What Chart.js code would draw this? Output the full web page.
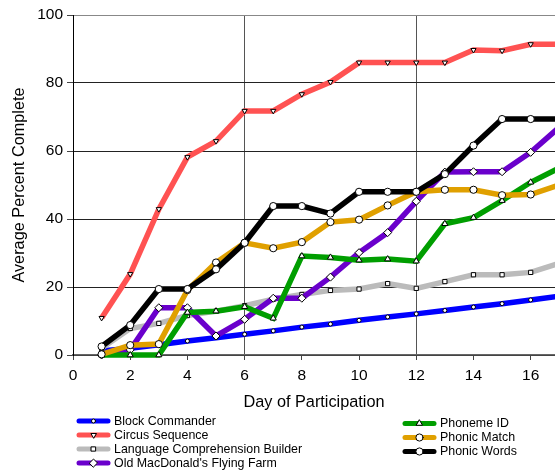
<!DOCTYPE html>
<html>
<head>
<meta charset="utf-8">
<script src="https://cdn.jsdelivr.net/npm/chart.js@4.4.1/dist/chart.umd.min.js"></script>
<style>
  html, body { margin: 0; padding: 0; background: #fff; overflow: hidden; }
  #wrap { width: 555px; height: 472px; position: relative; }
</style>
</head>
<body>
<div id="wrap"><canvas id="chart"></canvas></div>
<script>
// days of participation
const days = [1, 2, 3, 4, 5, 6, 7, 8, 9, 10, 11, 12, 13, 14, 15, 16, 17];

// average percent complete per game
const blockCommander = [1.2, 2.0, 3.0, 4.1, 5.1, 6.1, 7.1, 8.2, 9.1, 10.2, 11.2, 12.1, 13.1, 14.1, 15.1, 16.2, 17.3];
const circusSequence = [10.9, 23.8, 42.9, 58.2, 62.9, 71.8, 71.8, 76.7, 80.3, 86.0, 86.0, 86.0, 86.0, 89.7, 89.5, 91.4, 91.4];
const languageBuilder = [2.0, 7.8, 9.3, 11.6, 12.9, 14.5, 16.4, 17.8, 19.0, 19.4, 21.0, 19.6, 21.6, 23.6, 23.6, 24.3, 27.0];
const oldMacDonald = [0.0, 1.5, 13.9, 13.9, 5.6, 10.5, 16.7, 16.7, 22.9, 30.1, 36.0, 45.2, 53.8, 53.9, 53.9, 59.6, 67.0];
const phonemeId = [0.0, 0.0, 0.0, 12.5, 12.9, 14.2, 10.8, 29.1, 28.7, 27.9, 28.2, 27.6, 38.6, 40.4, 45.4, 50.8, 55.0];
const phonicMatch = [0.2, 2.9, 3.2, 19.1, 27.2, 33.0, 31.4, 33.2, 39.1, 39.8, 44.0, 48.0, 48.6, 48.6, 47.0, 47.2, 50.0];
const phonicWords = [2.5, 8.8, 19.4, 19.4, 25.2, 33.0, 43.8, 43.8, 41.6, 48.0, 48.0, 48.0, 53.2, 61.6, 69.4, 69.4, 69.4];

const yTicks = [0, 20, 40, 60, 80, 100];
const xTicks = [0, 2, 4, 6, 8, 10, 12, 14, 16];

const FONT = '"Liberation Sans", Arial, sans-serif';

function series(label, values, color, style, radius, extra) {
  return Object.assign({
    label: label,
    data: days.map((d, i) => ({ x: d, y: values[i] })),
    borderColor: color,
    backgroundColor: color,
    borderWidth: 5.5,
    pointStyle: style,
    pointRadius: radius,
    pointBackgroundColor: '#fff',
    pointBorderColor: '#000',
    pointBorderWidth: 1,
    tension: 0,
    clip: { left: 5, top: 5, right: 0, bottom: 5 },
  }, extra || {});
}

const datasets = [
  series('Block Commander', blockCommander, '#0000ff', 'circle', 2),
  series('Circus Sequence', circusSequence, '#ff5252', 'triangle', 3, { pointRotation: 180 }),
  series('Language Comprehension Builder', languageBuilder, '#bbbbbb', 'rect', 3),
  series("Old MacDonald's Flying Farm", oldMacDonald, '#6a00cc', 'rectRot', 4),
  series('Phoneme ID', phonemeId, '#009e00', 'triangle', 3.5),
  series('Phonic Match', phonicMatch, '#e0a000', 'circle', 3.6),
  series('Phonic Words', phonicWords, '#000000', 'circle', 3.6),
];
// later series on top
datasets.forEach((d, i) => { d.order = datasets.length - i; });

// two column legend like the original
const legendPlugin = {
  id: 'sideLegend',
  afterDraw(chart) {
    const ctx = chart.ctx;
    const cols = [
      { x: 77, y: 421, step: 14, items: [0, 1, 2, 3] },
      { x: 403, y: 423.5, step: 14, items: [4, 5, 6] },
    ];
    ctx.save();
    ctx.font = '12.4px ' + FONT;
    ctx.textBaseline = 'middle';
    cols.forEach(col => {
      col.items.forEach((idx, k) => {
        const ds = chart.data.datasets[idx];
        const y = col.y + k * col.step;
        ctx.strokeStyle = ds.borderColor;
        ctx.lineWidth = 5;
        ctx.lineCap = 'round';
        ctx.beginPath();
        ctx.moveTo(col.x + 2, y);
        ctx.lineTo(col.x + 31, y);
        ctx.stroke();
        ctx.fillStyle = '#fff';
        ctx.strokeStyle = '#000';
        ctx.lineWidth = 1;
        Chart.helpers.drawPoint(ctx, {
          pointStyle: ds.pointStyle,
          rotation: ds.pointRotation || 0,
          radius: ds.pointRadius,
          borderWidth: 1,
        }, col.x + 16.5, y);
        ctx.fillStyle = '#000';
        ctx.fillText(ds.label, col.x + 37, y + 0.5);
      });
    });
    ctx.restore();
  }
};

const ctx = document.getElementById('chart').getContext('2d');
new Chart(ctx, {
  type: 'line',
  data: { datasets: datasets },
  plugins: [legendPlugin],
  options: {
    responsive: true,
    maintainAspectRatio: false,
    animation: false,
    layout: { autoPadding: false, padding: { top: 15, right: 0, bottom: 60, left: 0 } },
    plugins: {
      legend: { display: false },
      tooltip: { enabled: false },
    },
    scales: {
      x: {
        type: 'linear',
        min: 0,
        max: 16.85,
        afterBuildTicks: scale => { scale.ticks = xTicks.map(v => ({ value: v })); },
        afterFit: scale => {
          scale.height = 57;
          scale.paddingLeft = 0;
          scale.paddingRight = 0;
        },
        grid: {
          drawOnChartArea: true,
          color: c => (c.tick && (c.tick.value === 6 || c.tick.value === 12)) ? '#555' : 'rgba(0,0,0,0)',
          tickColor: '#444',
          tickLength: 5,
          lineWidth: 1,
        },
        border: { color: '#666', width: 1.5 },
        ticks: { color: '#000', font: { family: FONT, size: 15.5 }, padding: 6, maxRotation: 0 },
        title: {
          display: true,
          text: 'Day of Participation',
          color: '#000',
          font: { family: FONT, size: 16.3 },
          padding: { top: 4, bottom: 0 },
        },
      },
      y: {
        type: 'linear',
        min: 0,
        max: 100,
        afterBuildTicks: scale => { scale.ticks = yTicks.map(v => ({ value: v })); },
        afterFit: scale => { scale.width = 73; },
        grid: {
          color: c => (c.tick && c.tick.value === 100) ? '#888' : '#222',
          tickColor: '#444',
          tickLength: 6,
          lineWidth: 1,
        },
        border: { color: '#000', width: 1 },
        ticks: { color: '#000', font: { family: FONT, size: 15.5 }, padding: 4 },
        title: {
          display: true,
          text: 'Average Percent Complete',
          color: '#000',
          font: { family: FONT, size: 16.3 },
          padding: { top: 10, bottom: 4 },
        },
      },
    },
  },
});
</script>
</body>
</html>
